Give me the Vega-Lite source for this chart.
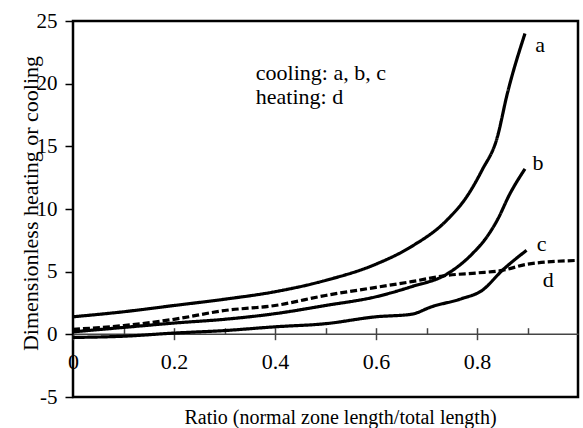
{
  "$schema": "https://vega.github.io/schema/vega-lite/v6.json",
  "width": 505,
  "height": 376,
  "autosize": {"type": "none"},
  "padding": {"left": 73, "top": 21, "right": 5, "bottom": 31},
  "background": "white",
  "config": {
    "view": {"stroke": "black", "strokeWidth": 2.5},
    "font": "Liberation Serif",
    "axis": {"labelFont": "Liberation Serif", "titleFont": "Liberation Serif"},
    "text": {"font": "Liberation Serif"}
  },
  "datasets": {
    "curves": [
      {"curve": "a", "kind": "cooling", "x": 0.0, "y": 1.4},
      {"curve": "a", "kind": "cooling", "x": 0.1, "y": 1.8},
      {"curve": "a", "kind": "cooling", "x": 0.2, "y": 2.3},
      {"curve": "a", "kind": "cooling", "x": 0.3, "y": 2.8},
      {"curve": "a", "kind": "cooling", "x": 0.4, "y": 3.4},
      {"curve": "a", "kind": "cooling", "x": 0.5, "y": 4.3},
      {"curve": "a", "kind": "cooling", "x": 0.6, "y": 5.6},
      {"curve": "a", "kind": "cooling", "x": 0.67, "y": 7.0},
      {"curve": "a", "kind": "cooling", "x": 0.74, "y": 9.1},
      {"curve": "a", "kind": "cooling", "x": 0.78, "y": 11.0},
      {"curve": "a", "kind": "cooling", "x": 0.81, "y": 13.1},
      {"curve": "a", "kind": "cooling", "x": 0.84, "y": 15.7},
      {"curve": "a", "kind": "cooling", "x": 0.86, "y": 19.2},
      {"curve": "a", "kind": "cooling", "x": 0.895, "y": 24.0},
      {"curve": "b", "kind": "cooling", "x": 0.0, "y": 0.2},
      {"curve": "b", "kind": "cooling", "x": 0.1, "y": 0.55},
      {"curve": "b", "kind": "cooling", "x": 0.2, "y": 0.9},
      {"curve": "b", "kind": "cooling", "x": 0.3, "y": 1.2},
      {"curve": "b", "kind": "cooling", "x": 0.4, "y": 1.65},
      {"curve": "b", "kind": "cooling", "x": 0.5, "y": 2.3},
      {"curve": "b", "kind": "cooling", "x": 0.6, "y": 3.0},
      {"curve": "b", "kind": "cooling", "x": 0.67, "y": 3.8},
      {"curve": "b", "kind": "cooling", "x": 0.74, "y": 4.8},
      {"curve": "b", "kind": "cooling", "x": 0.79, "y": 6.4},
      {"curve": "b", "kind": "cooling", "x": 0.82, "y": 7.8},
      {"curve": "b", "kind": "cooling", "x": 0.84, "y": 9.1},
      {"curve": "b", "kind": "cooling", "x": 0.865, "y": 11.2},
      {"curve": "b", "kind": "cooling", "x": 0.895, "y": 13.2},
      {"curve": "c", "kind": "cooling", "x": 0.0, "y": -0.25},
      {"curve": "c", "kind": "cooling", "x": 0.1, "y": -0.15},
      {"curve": "c", "kind": "cooling", "x": 0.2, "y": 0.1},
      {"curve": "c", "kind": "cooling", "x": 0.3, "y": 0.3},
      {"curve": "c", "kind": "cooling", "x": 0.4, "y": 0.6},
      {"curve": "c", "kind": "cooling", "x": 0.5, "y": 0.85},
      {"curve": "c", "kind": "cooling", "x": 0.6, "y": 1.4},
      {"curve": "c", "kind": "cooling", "x": 0.67, "y": 1.6},
      {"curve": "c", "kind": "cooling", "x": 0.71, "y": 2.2},
      {"curve": "c", "kind": "cooling", "x": 0.77, "y": 2.85},
      {"curve": "c", "kind": "cooling", "x": 0.81, "y": 3.5},
      {"curve": "c", "kind": "cooling", "x": 0.85, "y": 5.1},
      {"curve": "c", "kind": "cooling", "x": 0.898, "y": 6.7},
      {"curve": "d", "kind": "heating", "x": 0.0, "y": 0.4},
      {"curve": "d", "kind": "heating", "x": 0.1, "y": 0.7},
      {"curve": "d", "kind": "heating", "x": 0.2, "y": 1.2},
      {"curve": "d", "kind": "heating", "x": 0.3, "y": 1.9},
      {"curve": "d", "kind": "heating", "x": 0.4, "y": 2.3},
      {"curve": "d", "kind": "heating", "x": 0.5, "y": 3.1},
      {"curve": "d", "kind": "heating", "x": 0.6, "y": 3.75},
      {"curve": "d", "kind": "heating", "x": 0.67, "y": 4.2},
      {"curve": "d", "kind": "heating", "x": 0.74, "y": 4.7},
      {"curve": "d", "kind": "heating", "x": 0.8, "y": 4.9},
      {"curve": "d", "kind": "heating", "x": 0.85, "y": 5.1},
      {"curve": "d", "kind": "heating", "x": 0.9, "y": 5.6},
      {"curve": "d", "kind": "heating", "x": 1.0, "y": 5.9}
    ],
    "curveLabels": [
      {"x": 0.925, "y": 23.1, "text": "a"},
      {"x": 0.921, "y": 13.7, "text": "b"},
      {"x": 0.928, "y": 7.2, "text": "c"},
      {"x": 0.941, "y": 4.3, "text": "d"}
    ],
    "notes": [
      {"x": 0.362, "y": 20.3, "text": "cooling: a, b, c"},
      {"x": 0.362, "y": 18.4, "text": "heating: d"}
    ]
  },
  "resolve": {"axis": {"x": "independent"}},
  "layer": [
    {
      "data": {"name": "curves"},
      "mark": {"type": "line", "strokeWidth": 3.2, "color": "black", "interpolate": "monotone"},
      "encoding": {
        "x": {
          "field": "x", "type": "quantitative",
          "scale": {"domain": [0, 1], "nice": false, "zero": false},
          "axis": {
            "orient": "bottom", "offset": -63.3,
            "values": [0, 0.2, 0.4, 0.6, 0.8], "labelExpr": "'' + datum.value",
            "grid": false,
            "domain": true, "domainColor": "#444", "domainWidth": 1.5,
            "ticks": true, "tickSize": 6, "tickColor": "#444", "tickWidth": 1.5,
            "labelFont": "Liberation Serif",
            "labelFontSize": 22, "labelColor": "black", "labelBaseline": "alphabetic",
            "labelPadding": 28.5, "labelFlush": false, "labelOverlap": false,
            "title": "Ratio (normal zone length/total length)",
            "titleFont": "Liberation Serif",
            "titleFontSize": 20, "titleFontWeight": "normal", "titleColor": "black",
            "titleX": 267, "titleY": 89.6, "titleBaseline": "alphabetic", "titleAlign": "center"
          }
        },
        "y": {
          "field": "y", "type": "quantitative",
          "scale": {"domain": [-5, 25], "nice": false, "zero": false},
          "axis": {
            "values": [-5, 0, 5, 10, 15, 20, 25], "labelExpr": "'' + datum.value",
            "grid": false, "domain": false,
            "tickSize": 8, "tickColor": "black", "tickWidth": 1.5,
            "labelFont": "Liberation Serif",
            "labelFontSize": 21, "labelColor": "black", "labelPadding": 8,
            "labelFlush": false, "labelOverlap": false,
            "title": "Dimensionless heating or cooling",
            "titleFont": "Liberation Serif",
            "titleFontSize": 22, "titleFontWeight": "normal", "titleColor": "black",
            "titleX": -43, "titleY": 182, "titleBaseline": "middle", "titleAlign": "center", "titleAngle": -90
          }
        },
        "detail": {"field": "curve", "type": "nominal"},
        "strokeDash": {
          "field": "kind", "type": "nominal",
          "scale": {"domain": ["cooling", "heating"], "range": [[1, 0], [7, 3]]},
          "legend": null
        }
      }
    },
    {
      "data": {"name": "curveLabels"},
      "mark": {"type": "text", "fontSize": 22, "color": "black", "align": "center", "baseline": "middle", "font": "Liberation Serif"},
      "encoding": {
        "x": {
          "field": "x", "type": "quantitative",
          "axis": {
            "orient": "bottom", "offset": -63.3,
            "values": [0.1, 0.2, 0.3, 0.4, 0.5, 0.6, 0.7, 0.8, 0.9],
            "grid": false, "domain": false, "labels": false, "title": null,
            "tickSize": -6, "tickColor": "#444", "tickWidth": 1.5
          }
        },
        "y": {"field": "y", "type": "quantitative"},
        "text": {"field": "text"}
      }
    },
    {
      "data": {"name": "notes"},
      "mark": {"type": "text", "fontSize": 22, "color": "black", "align": "left", "baseline": "alphabetic", "font": "Liberation Serif"},
      "encoding": {
        "x": {"field": "x", "type": "quantitative", "axis": null},
        "y": {"field": "y", "type": "quantitative"},
        "text": {"field": "text"}
      }
    }
  ]
}
